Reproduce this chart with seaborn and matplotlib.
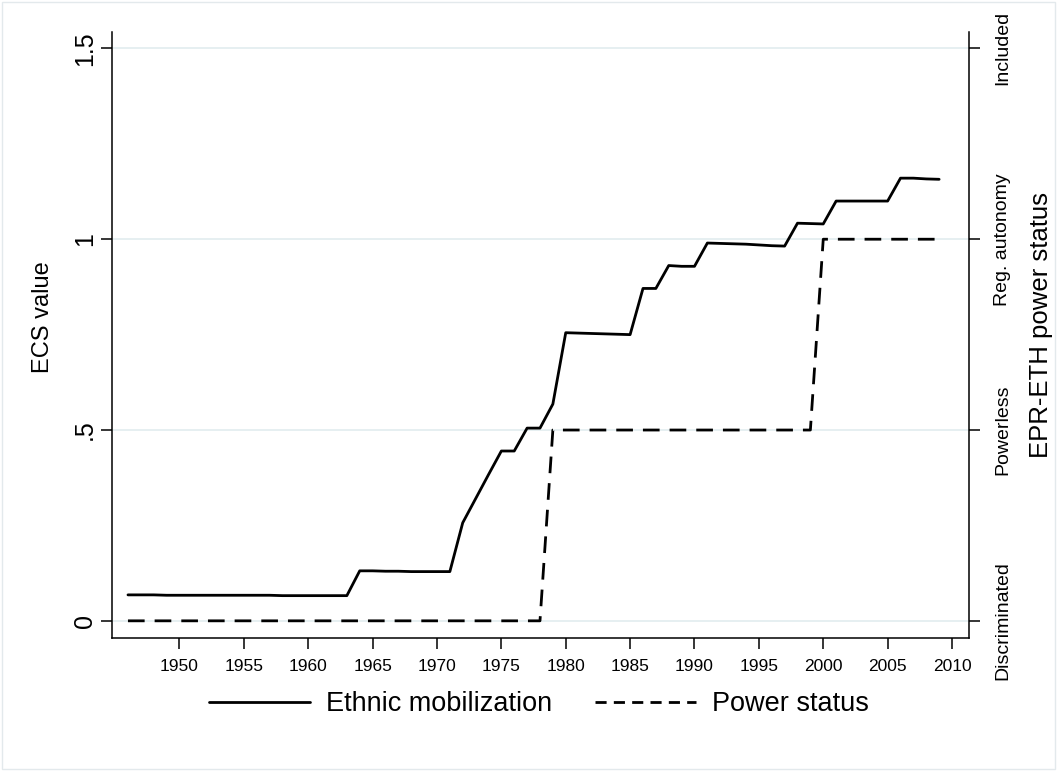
import matplotlib
matplotlib.use("Agg")
import matplotlib.pyplot as plt
import seaborn as sns
import pandas as pd
from matplotlib.lines import Line2D
from matplotlib.patches import Rectangle

# ---------------- data ----------------
years = list(range(1946, 2010))
ethnic_mobilization = [
    0.068, 0.068, 0.068, 0.067, 0.067, 0.067, 0.067, 0.067, 0.067, 0.067,
    0.067, 0.067, 0.066, 0.066, 0.066, 0.066, 0.066, 0.066,            # 1946-1963
    0.131, 0.131, 0.130, 0.130, 0.129, 0.129, 0.129, 0.129,            # 1964-1971
    0.257, 0.320, 0.383, 0.445, 0.445, 0.505, 0.505, 0.568,            # 1972-1979
    0.755, 0.754, 0.753, 0.752, 0.751, 0.750,                          # 1980-1985
    0.871, 0.871, 0.931, 0.929, 0.929,                                 # 1986-1990
    0.990, 0.989, 0.988, 0.987, 0.985, 0.983, 0.982,                   # 1991-1997
    1.042, 1.041, 1.040,                                               # 1998-2000
    1.100, 1.100, 1.100, 1.100, 1.100,                                 # 2001-2005
    1.160, 1.160, 1.158, 1.157,                                        # 2006-2009
]
power_status = [0.0] * 33 + [0.5] * 21 + [1.0] * 10                   # 1946-1978, 1979-1999, 2000-2009
series_labels = ["Ethnic mobilization", "Power status"]
left_ticks = [0, 0.5, 1, 1.5]
left_tick_labels = ["0", ".5", "1", "1.5"]
right_tick_labels = ["Discriminated", "Powerless", "Reg. autonomy", "Included"]
x_ticks = list(range(1950, 2011, 5))
left_title = "ECS value"
right_title = "EPR-ETH power status"

df = pd.DataFrame({"year": years, "ecs": ethnic_mobilization, "power": power_status})

# ---------------- style ----------------
sns.set_theme(style="white")
FONT = ["Liberation Sans Narrow", "Liberation Sans", "DejaVu Sans"]
plt.rcParams["font.family"] = FONT
plt.rcParams["axes.unicode_minus"] = False
for key in ("text.color", "axes.labelcolor", "xtick.color", "ytick.color"):
    plt.rcParams[key] = "black"

W, H = 1057, 771
fig = plt.figure(figsize=(W / 100, H / 100), dpi=100)
fig.patch.set_facecolor("white")

# faint outer frame
fig.add_artist(Rectangle((2 / W, 2 / H), 1 - 4 / W, 1 - 4 / H, transform=fig.transFigure,
                         fill=False, edgecolor="#e3e9ec", lw=1.0))

L, R, T, B = 112, 969, 32, 638
ax = fig.add_axes([L / W, 1 - B / H, (R - L) / W, (B - T) / H])
ax.set_facecolor("white")

ylim = (-0.045, 1.543)
xlim = (1944.76, 2011.32)

# grid
for yv in left_ticks:
    ax.axhline(yv, color="#e6eff1", lw=1.4, zorder=0)

lw = 2.0
sns.lineplot(data=df, x="year", y="ecs", ax=ax, color="black", lw=lw,
             legend=False, zorder=3)

ax2 = ax.twinx()
sns.lineplot(data=df, x="year", y="power", ax=ax2, color="black", lw=lw,
             legend=False, zorder=3)
ax2.lines[0].set_dashes((6.0, 3.6))

for a in (ax, ax2):
    a.set_xlim(*xlim)
    a.set_ylim(*ylim)
    a.spines["top"].set_visible(False)
    for s in ("left", "right", "bottom"):
        a.spines[s].set_color("black")
        a.spines[s].set_linewidth(1.1)

ax.spines["right"].set_visible(False)
ax2.spines["left"].set_visible(False)
ax2.spines["bottom"].set_visible(False)

ax.set_xticks(x_ticks)
ax.set_xticklabels([str(x) for x in x_ticks], fontsize=12.5)
ax.set_yticks(left_ticks)
ax.set_yticklabels(left_tick_labels, fontsize=18, rotation=90, va="center")
ax.tick_params(axis="x", which="major", direction="out", length=8, width=1.1,
               color="black", labelcolor="black", pad=7, bottom=True)
ax.tick_params(axis="y", which="major", direction="out", length=8, width=1.1,
               color="black", labelcolor="black", pad=3, left=True)

ax2.set_yticks(left_ticks)
ax2.set_yticklabels(right_tick_labels, fontsize=14, rotation=90, va="center")
ax2.tick_params(axis="y", which="major", direction="out", length=8, width=1.1,
                color="black", labelcolor="black", pad=10, right=True)

ax.set_xlabel("")
ax.set_ylabel(left_title, fontsize=17, rotation=90, color="black")
ax.yaxis.label.set_verticalalignment("center")
ax.yaxis.label.set_horizontalalignment("center")
ax.yaxis.set_label_coords(-0.080, 0.53)
ax2.set_ylabel(right_title, fontsize=18.5, rotation=90, color="black")
ax2.yaxis.label.set_verticalalignment("center")
ax2.yaxis.label.set_horizontalalignment("center")
ax2.yaxis.set_label_coords(1.084, 0.516)

handles = [Line2D([0], [0], color="black", lw=lw),
           Line2D([0], [0], color="black", lw=lw, dashes=(4.0, 2.6))]
leg = fig.legend(handles, series_labels, loc="center", bbox_to_anchor=(0.51, 1 - 704 / H),
                 ncol=2, frameon=False, fontsize=19.5, handlelength=3.7, handletextpad=0.6,
                 columnspacing=1.6)
for t in leg.get_texts():
    t.set_color("black")

fig.savefig("out.png", dpi=100, facecolor="white")
